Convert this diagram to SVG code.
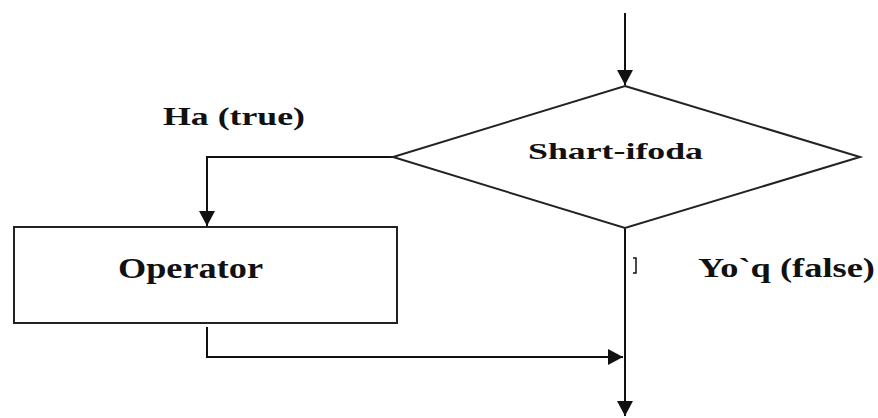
<svg xmlns="http://www.w3.org/2000/svg" width="878" height="418" viewBox="0 0 878 418">
<style>
.ln{fill:none;stroke:#111;stroke-width:2}
.shape{fill:#fff;stroke:#222;stroke-width:2}
.lbl{font-family:"Liberation Serif","Times New Roman",serif;font-weight:bold;fill:#111}
</style>
<defs>
<marker id="arr" markerUnits="userSpaceOnUse" markerWidth="16" markerHeight="16" viewBox="0 0 16 16" refX="15" refY="8" orient="auto">
<path d="M0,0 L15,8 L0,16 Z" fill="#111"/>
</marker>
</defs>
<rect width="878" height="418" fill="#fff"/>
<g id="connectors">
<path class="ln" d="M625,13 V85" marker-end="url(#arr)"/>
<path class="ln" d="M393,157 H207 V226" marker-end="url(#arr)"/>
<path class="ln" d="M625,228 V416" marker-end="url(#arr)"/>
<path class="ln" d="M207,327 V357 H623" marker-end="url(#arr)"/>
<path class="ln" d="M633,258 H636 V273 H633" style="stroke-width:1.5"/>
</g>
<g id="decision">
<polygon class="shape" points="625,86 860,157 625,228 393,157"/>
<text class="lbl" x="528" y="159" font-size="23" textLength="175" lengthAdjust="spacingAndGlyphs">Shart-ifoda</text>
</g>
<g id="operator">
<rect class="shape" x="14" y="227" width="383" height="96"/>
<text class="lbl" x="118" y="278" font-size="29" textLength="145" lengthAdjust="spacingAndGlyphs">Operator</text>
</g>
<g id="label-true">
<text class="lbl" x="163" y="125" font-size="26" textLength="142" lengthAdjust="spacingAndGlyphs">Ha (true)</text>
</g>
<g id="label-false">
<text class="lbl" x="698" y="277" font-size="28" textLength="177" lengthAdjust="spacingAndGlyphs">Yo`q (false)</text>
</g>
</svg>
